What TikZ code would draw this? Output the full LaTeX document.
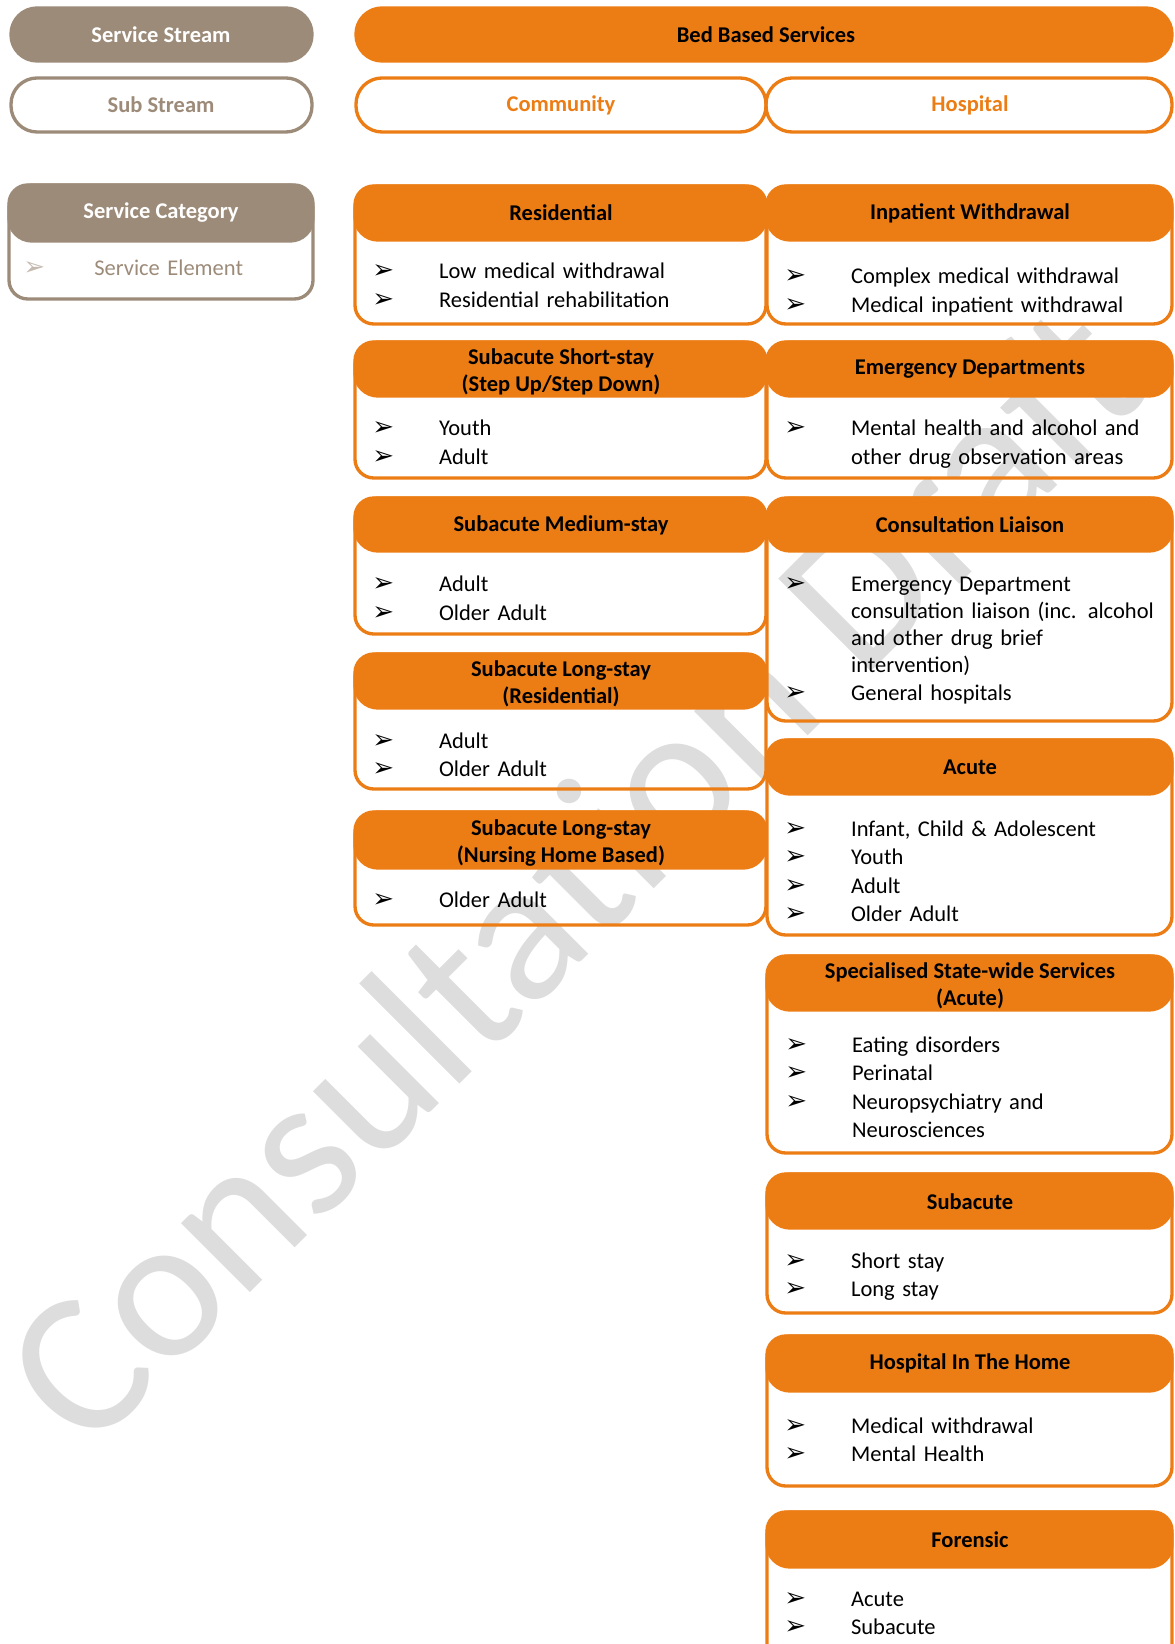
\documentclass[tikz,border=0pt]{standalone}
\usepackage{fontspec}
\setmainfont{Carlito}
\newfontfamily\dingfont{DejaVu Sans}
\usepackage{xcolor}

\definecolor{orng}{RGB}{236,125,21}
\definecolor{taupe}{RGB}{157,139,121}
\definecolor{wmark}{RGB}{221,221,221}

\newcommand{\el}{\makebox[32pt][l]{\dingfont\fontsize{12.5}{12}\selectfont ➢}}
\newcommand{\cont}{\hspace*{32pt}}

\tikzset{
  pill/.style={rounded corners=12.5pt, line width=1.6pt},
  catbox/.style={draw=orng, rounded corners=9pt, line width=1.6pt},
  cathead/.style={fill=orng, draw=orng, rounded corners=11pt, line width=1.6pt},
  headtxt/.style={font=\fontsize{10.8}{13}\selectfont\bfseries, align=center, inner sep=0pt},
  items/.style={font=\fontsize{10.8}{13.7}\selectfont, anchor=base west, text width=190pt, align=left, inner sep=0pt},
}

\begin{document}
\begin{tikzpicture}[x=0.48pt, y=-0.48pt]
\useasboundingbox (0,0) rectangle (1174,1644);
\clip (0,0) rectangle (1174,1644);
% watermark
\node [rotate=45, text=wmark, font=\fontsize{98}{98}\selectfont] (wm) at (572,872) {Consultation Draft};
% legend
\filldraw [pill, fill=taupe, draw=taupe] (11,8) rectangle (312,61);
\node [headtxt, text=white] (stream) at (161,35) {Service Stream};
\draw [pill, draw=taupe] (11,78) rectangle (312,132);
\node [headtxt, text=taupe] (sub) at (161,105) {Sub Stream};
\draw [catbox, draw=taupe] (9,185) rectangle (313,299);
\filldraw [cathead, fill=taupe, draw=taupe] (9,185) rectangle (313,241);
\node [headtxt, text=white] (cat) at (161,213) {Service Category};
\node [items, text=taupe] (elem) at (23,276) {\makebox[34pt][l]{\dingfont\fontsize{12.5}{12}\selectfont\color{taupe!60}➢}Service Element};
% streams
\filldraw [pill, fill=orng, draw=orng] (356,8) rectangle (1172,61);
\node [headtxt] (bed) at (766,35) {Bed Based Services};
\draw [pill, draw=orng] (356,78) rectangle (766,132);
\node [headtxt, text=orng] (comm) at (561,105) {Community};
\draw [pill, draw=orng] (766,78) rectangle (1172,132);
\node [headtxt, text=orng] (hosp) at (970,105) {Hospital};
% community
\draw [catbox] (355,186) rectangle (766,324);
\filldraw [cathead] (355,186) rectangle (766,240);
\node [headtxt] (res) at (561,213) {Residential};
\node [items] (res-el) at (372,279) {\el Low medical withdrawal\\ \el Residential rehabilitation};

\draw [catbox] (355,342) rectangle (766,478);
\filldraw [cathead] (355,342) rectangle (766,396);
\node [headtxt] (short) at (561,372) {Subacute Short-stay\\(Step Up/Step Down)};
\node [items] (short-el) at (372,436) {\el Youth\\ \el Adult};

\draw [catbox] (355,498) rectangle (766,634);
\filldraw [cathead] (355,498) rectangle (766,551);
\node [headtxt] (med) at (561,525) {Subacute Medium-stay};
\node [items] (med-el) at (372,592) {\el Adult\\ \el Older Adult};

\draw [catbox] (355,654) rectangle (766,789);
\filldraw [cathead] (355,654) rectangle (766,708);
\node [headtxt] (longres) at (561,684) {Subacute Long-stay\\(Residential)};
\node [items] (longres-el) at (372,748) {\el Adult\\ \el Older Adult};

\draw [catbox] (355,812) rectangle (766,925);
\filldraw [cathead] (355,812) rectangle (766,868);
\node [headtxt] (nurs) at (561,843) {Subacute Long-stay\\(Nursing Home Based)};
\node [items] (nurs-el) at (372,907) {\el Older Adult};
% hospital
\draw [catbox] (767,186) rectangle (1172,324);
\filldraw [cathead] (767,186) rectangle (1172,240);
\node [headtxt] (inpat) at (970,213) {Inpatient Withdrawal};
\node [items] (inpat-el) at (784,284) {\el Complex medical withdrawal\\ \el Medical inpatient withdrawal};

\draw [catbox] (767,342) rectangle (1172,478);
\filldraw [cathead] (767,342) rectangle (1172,396);
\node [headtxt] (ed) at (970,369) {Emergency Departments};
\node [items] (ed-el) at (784,436) {\el Mental health and alcohol and\\ \cont other drug observation areas};

\draw [catbox] (767,498) rectangle (1172,721);
\filldraw [cathead] (767,498) rectangle (1172,551);
\node [headtxt] (cl) at (970,525) {Consultation Liaison};
\node [items, font=\fontsize{10.8}{13.1}\selectfont] (cl-el) at (784,591) {\el Emergency Department\\ \cont consultation liaison (inc. alcohol\\ \cont and other drug brief\\ \cont intervention)\\ \el General hospitals};

\draw [catbox] (767,740) rectangle (1172,935);
\filldraw [cathead] (767,740) rectangle (1172,794);
\node [headtxt] (acute) at (970,767) {Acute};
\node [items] (acute-el) at (784,836) {\el Infant, Child \& Adolescent\\ \el Youth\\ \el Adult\\ \el Older Adult};

\draw [catbox] (767,956) rectangle (1172,1153);
\filldraw [cathead] (767,956) rectangle (1172,1010);
\node [headtxt] (state) at (970,986) {Specialised State-wide Services\\(Acute)};
\node [items] (state-el) at (785,1052) {\el Eating disorders\\ \el Perinatal\\ \el Neuropsychiatry and\\ \cont Neurosciences};

\draw [catbox] (767,1174) rectangle (1172,1313);
\filldraw [cathead] (767,1174) rectangle (1172,1228);
\node [headtxt] (subac) at (970,1202) {Subacute};
\node [items] (subac-el) at (784,1268) {\el Short stay\\ \el Long stay};

\draw [catbox] (767,1336) rectangle (1172,1486);
\filldraw [cathead] (767,1336) rectangle (1172,1391);
\node [headtxt] (hith) at (970,1363) {Hospital In The Home};
\node [items] (hith-el) at (784,1433) {\el Medical withdrawal\\ \el Mental Health};

\draw [catbox] (767,1512) rectangle (1172,1670);
\filldraw [cathead] (767,1512) rectangle (1172,1567);
\node [headtxt] (foren) at (970,1540) {Forensic};
\node [items] (foren-el) at (784,1606) {\el Acute\\ \el Subacute};
\end{tikzpicture}
\end{document}
